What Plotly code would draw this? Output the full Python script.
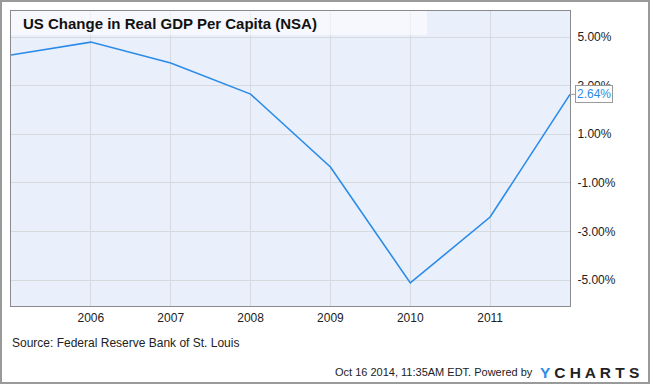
import plotly.graph_objects as go

years = [2005, 2006, 2007, 2008, 2009, 2010, 2011, 2012]
gdp_change = [4.26, 4.79, 3.93, 2.65, -0.35, -5.12, -2.41, 2.64]

x_tick_vals = [2006, 2007, 2008, 2009, 2010, 2011]
x_tick_text = ["2006", "2007", "2008", "2009", "2010", "2011"]
y_tick_vals = [-5, -3, -1, 1, 3, 5]
y_tick_text = ["-5.00%", "-3.00%", "-1.00%", "1.00%", "3.00%", "5.00%"]

title_text = "US Change in Real GDP Per Capita (NSA)"
source_text = "Source: Federal Reserve Bank of St. Louis"
stamp_text = "Oct 16 2014, 11:35AM EDT. Powered by"

W, H = 650, 384
L, R, T, B = 11, 80, 11, 78
PW, PH = W - L - R, H - T - B

def px(x):
    return (x - L) / PW

def py(y):
    return (H - B - y) / PH

FONT = "Liberation Sans, Arial, sans-serif"
LINE_COLOR = "#2a8be8"

fig = go.Figure()
fig.add_trace(go.Scatter(
    x=years, y=gdp_change, mode="lines",
    line=dict(color=LINE_COLOR, width=1.6),
    hoverinfo="skip", showlegend=False, cliponaxis=False,
))

fig.update_layout(
    width=W, height=H,
    margin=dict(l=L, r=R, t=T, b=B),
    paper_bgcolor="white",
    plot_bgcolor="#eaf0fb",
    font=dict(family=FONT, size=12, color="#222"),
    xaxis=dict(
        range=[2005, 2012], tickvals=x_tick_vals, ticktext=x_tick_text,
        showgrid=True, gridcolor="#d6d9de", gridwidth=1,
        zeroline=False, showline=True, linecolor="#8a8a8a", linewidth=1, mirror=True,
        ticks="", ticklabelstandoff=1,
        tickfont=dict(size=12, color="#222", family=FONT),
    ),
    yaxis=dict(
        range=[-6.07, 6.07], tickvals=y_tick_vals, ticktext=y_tick_text, side="right",
        showgrid=True, gridcolor="#d6d9de", gridwidth=1,
        zeroline=False, showline=True, linecolor="#8a8a8a", linewidth=1, mirror=True,
        ticks="", ticklabelstandoff=4,
        tickfont=dict(size=12, color="#222", family=FONT),
    ),
)

shapes = [
    # title band
    dict(type="rect", xref="paper", yref="paper", x0=0, x1=px(427), y0=py(35), y1=1,
         fillcolor="rgba(255,255,255,0.55)", line=dict(width=0), layer="above"),
    # outer frame
    dict(type="rect", xref="paper", yref="paper", x0=px(1), x1=px(649), y0=py(383), y1=py(1),
         fillcolor="rgba(0,0,0,0)", line=dict(color="#9a9a9a", width=2), layer="above"),
]
fig.update_layout(shapes=shapes)

annotations = [
    dict(text="<b>" + title_text + "</b>", xref="paper", yref="paper", x=px(21), y=py(24),
         xanchor="left", yanchor="middle", showarrow=False,
         font=dict(size=15, color="#111", family=FONT)),
    dict(text=source_text, xref="paper", yref="paper", x=px(10), y=py(343),
         xanchor="left", yanchor="middle", showarrow=False,
         font=dict(size=12, color="#222", family=FONT)),
    dict(text=stamp_text, xref="paper", yref="paper", x=px(535), y=py(372),
         xanchor="right", yanchor="middle", showarrow=False,
         font=dict(size=11, color="#222", family=FONT)),
    dict(text="<b><span style='color:#2f8ce6'>Y</span> C H A R T S</b>", xref="paper", yref="paper",
         x=px(538), y=py(372), xanchor="left", yanchor="middle", showarrow=False,
         font=dict(size=15.5, color="#222", family=FONT)),
    dict(text=f"{gdp_change[-1]:.2f}%", x=years[-1], y=gdp_change[-1], xref="x", yref="y",
         showarrow=True, ax=5, ay=0, arrowhead=0, arrowwidth=1, arrowcolor="#9a9a9a",
         standoff=0, xanchor="left", yanchor="middle",
         bgcolor="white", bordercolor="#9a9a9a", borderwidth=1, borderpad=1,
         font=dict(size=12, color=LINE_COLOR, family=FONT)),
]
fig.update_layout(annotations=annotations)

fig.write_html(
    "out.html",
    config={"displayModeBar": False},
    post_script="document.body.style.margin='0';document.body.style.overflow='hidden';",
)
